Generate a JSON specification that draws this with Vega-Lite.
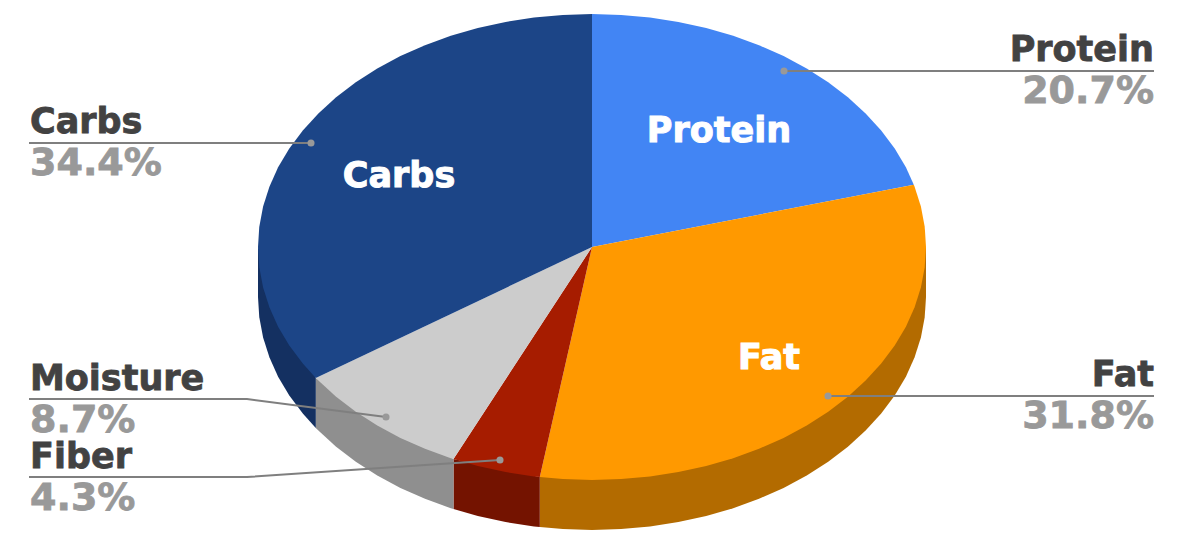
{"$schema":"https://vega.github.io/schema/vega-lite/v6.json","width":1184,"height":544,"padding":0,"autosize":"none","background":"white","config":{"view":{"stroke":null}},"projection":{"type":"identity","reflectY":true,"scale":1,"translate":[592,247]},"datasets":{"faces":[
{"type":"Feature","properties":{"face":"Fat side","share":31.8},"geometry":{"type":"Polygon","coordinates":[[[334,0],[334,-50],[332.7,-70.3],[328.9,-90.5],[322.6,-110.3],[313.9,-129.7],[302.7,-148.5],[289.2,-166.5],[273.6,-183.6],[255.9,-199.8],[236.2,-214.8],[214.7,-228.5],[191.6,-240.9],[167,-251.8],[141.2,-261.2],[114.2,-268.9],[86.4,-275.1],[58,-279.5],[29.1,-282.1],[0,-283],[-29.1,-282.1],[-52.2,-280.1],[-52.2,-230.1],[334,0]]]}},
{"type":"Feature","properties":{"face":"Fiber side","share":4.3},"geometry":{"type":"Polygon","coordinates":[[[-52.2,-230.1],[-52.2,-280.1],[-58,-279.5],[-86.4,-275.1],[-114.2,-268.9],[-138.5,-262],[-138.5,-212],[-52.2,-230.1]]]}},
{"type":"Feature","properties":{"face":"Moisture side","share":8.7},"geometry":{"type":"Polygon","coordinates":[[[-138.5,-212],[-138.5,-262],[-141.2,-261.2],[-167,-251.8],[-191.6,-240.9],[-214.7,-228.5],[-236.2,-214.8],[-255.9,-199.8],[-273.6,-183.6],[-276.2,-181],[-276.2,-131],[-138.5,-212]]]}},
{"type":"Feature","properties":{"face":"Carbs side","share":34.4},"geometry":{"type":"Polygon","coordinates":[[[-276.2,-131],[-276.2,-181],[-289.2,-166.5],[-302.7,-148.5],[-313.9,-129.7],[-322.6,-110.3],[-328.9,-90.5],[-332.7,-70.3],[-334,-50],[-334,0],[-276.2,-131]]]}},
{"type":"Feature","properties":{"face":"Protein","share":20.7},"geometry":{"type":"Polygon","coordinates":[[[0,0],[0,233],[29.1,232.1],[58,229.5],[86.4,225.1],[114.2,218.9],[141.2,211.2],[167,201.8],[191.6,190.9],[214.7,178.5],[236.2,164.8],[255.9,149.8],[273.6,133.6],[289.2,116.5],[302.7,98.5],[313.9,79.7],[321.8,62.3],[0,0]]]}},
{"type":"Feature","properties":{"face":"Fat","share":31.8},"geometry":{"type":"Polygon","coordinates":[[[0,0],[321.8,62.3],[322.6,60.3],[328.9,40.5],[332.7,20.3],[334,0],[332.7,-20.3],[328.9,-40.5],[322.6,-60.3],[313.9,-79.7],[302.7,-98.5],[289.2,-116.5],[273.6,-133.6],[255.9,-149.8],[236.2,-164.8],[214.7,-178.5],[191.6,-190.9],[167,-201.8],[141.2,-211.2],[114.2,-218.9],[86.4,-225.1],[58,-229.5],[29.1,-232.1],[0,-233],[-29.1,-232.1],[-52.2,-230.1],[0,0]]]}},
{"type":"Feature","properties":{"face":"Fiber","share":4.3},"geometry":{"type":"Polygon","coordinates":[[[0,0],[-52.2,-230.1],[-58,-229.5],[-86.4,-225.1],[-114.2,-218.9],[-138.5,-212],[0,0]]]}},
{"type":"Feature","properties":{"face":"Moisture","share":8.7},"geometry":{"type":"Polygon","coordinates":[[[0,0],[-138.5,-212],[-141.2,-211.2],[-167,-201.8],[-191.6,-190.9],[-214.7,-178.5],[-236.2,-164.8],[-255.9,-149.8],[-273.6,-133.6],[-276.2,-131],[0,0]]]}},
{"type":"Feature","properties":{"face":"Carbs","share":34.4},"geometry":{"type":"Polygon","coordinates":[[[0,0],[-276.2,-131],[-289.2,-116.5],[-302.7,-98.5],[-313.9,-79.7],[-322.6,-60.3],[-328.9,-40.5],[-332.7,-20.3],[-334,0],[-332.7,20.3],[-328.9,40.5],[-322.6,60.3],[-313.9,79.7],[-302.7,98.5],[-289.2,116.5],[-273.6,133.6],[-255.9,149.8],[-236.2,164.8],[-214.7,178.5],[-191.6,190.9],[-167,201.8],[-141.2,211.2],[-114.2,218.9],[-86.4,225.1],[-58,229.5],[-29.1,232.1],[0,233],[0,0]]]}}
],
"leaders":[
{"name":"Protein","step":1,"lon":192,"lat":176},{"name":"Protein","step":2,"lon":562,"lat":176},
{"name":"Fat","step":1,"lon":236,"lat":-149},{"name":"Fat","step":2,"lon":562,"lat":-149},
{"name":"Carbs","step":1,"lon":-281,"lat":104},{"name":"Carbs","step":2,"lon":-563,"lat":104},
{"name":"Moisture","step":1,"lon":-206,"lat":-170},{"name":"Moisture","step":2,"lon":-345,"lat":-152},{"name":"Moisture","step":3,"lon":-563,"lat":-152},
{"name":"Fiber","step":1,"lon":-92,"lat":-213},{"name":"Fiber","step":2,"lon":-345,"lat":-230},{"name":"Fiber","step":3,"lon":-563,"lat":-230}
],
"namesRight":[
{"label":"Protein","lon":562,"lat":186},{"label":"Fat","lon":562,"lat":-139}
],
"sharesRight":[
{"label":"20.7%","lon":562,"lat":144},{"label":"31.8%","lon":562,"lat":-181}
],
"namesLeft":[
{"label":"Carbs","lon":-562,"lat":114},{"label":"Moisture","lon":-562,"lat":-143},{"label":"Fiber","lon":-562,"lat":-221}
],
"sharesLeft":[
{"label":"34.4%","lon":-562,"lat":72},{"label":"8.7%","lon":-562,"lat":-185},{"label":"4.3%","lon":-562,"lat":-263}
],
"labelsInner":[
{"label":"Protein","lon":127,"lat":105},{"label":"Fat","lon":177,"lat":-122},{"label":"Carbs","lon":-193,"lat":60}
]},
"layer":[
{"data":{"name":"faces"},"mark":{"type":"geoshape","strokeWidth":0},"encoding":{"color":{"field":"properties.face","type":"nominal","legend":null,"scale":{"domain":["Protein","Fat","Fiber","Moisture","Carbs","Fat side","Fiber side","Moisture side","Carbs side"],"range":["#4285f4","#ff9900","#a61c00","#cccccc","#1c4587","#b36b00","#741300","#8f8f8f","#143061"]}}}},
{"data":{"name":"leaders"},"mark":{"type":"line","color":"#7f7f7f","strokeWidth":2},"encoding":{"longitude":{"field":"lon","type":"quantitative"},"latitude":{"field":"lat","type":"quantitative"},"detail":{"field":"name"},"order":{"field":"step"}}},
{"data":{"name":"leaders"},"transform":[{"filter":"datum.step==1"}],"mark":{"type":"circle","color":"#999999","opacity":1,"size":50},"encoding":{"longitude":{"field":"lon","type":"quantitative"},"latitude":{"field":"lat","type":"quantitative"}}},
{"data":{"name":"namesRight"},"mark":{"type":"text","align":"right","baseline":"alphabetic","font":"DejaVu Sans","fontWeight":"bold","fontSize":35,"fill":"#424242","stroke":"#424242","strokeWidth":0.8},"encoding":{"longitude":{"field":"lon","type":"quantitative"},"latitude":{"field":"lat","type":"quantitative"},"text":{"field":"label"}}},
{"data":{"name":"sharesRight"},"mark":{"type":"text","align":"right","baseline":"alphabetic","font":"DejaVu Sans","fontWeight":"bold","fontSize":38,"fill":"#999999","stroke":"#999999","strokeWidth":0.8},"encoding":{"longitude":{"field":"lon","type":"quantitative"},"latitude":{"field":"lat","type":"quantitative"},"text":{"field":"label"}}},
{"data":{"name":"namesLeft"},"mark":{"type":"text","align":"left","baseline":"alphabetic","font":"DejaVu Sans","fontWeight":"bold","fontSize":35,"fill":"#424242","stroke":"#424242","strokeWidth":0.8},"encoding":{"longitude":{"field":"lon","type":"quantitative"},"latitude":{"field":"lat","type":"quantitative"},"text":{"field":"label"}}},
{"data":{"name":"sharesLeft"},"mark":{"type":"text","align":"left","baseline":"alphabetic","font":"DejaVu Sans","fontWeight":"bold","fontSize":38,"fill":"#999999","stroke":"#999999","strokeWidth":0.8},"encoding":{"longitude":{"field":"lon","type":"quantitative"},"latitude":{"field":"lat","type":"quantitative"},"text":{"field":"label"}}},
{"data":{"name":"labelsInner"},"mark":{"type":"text","align":"center","baseline":"alphabetic","font":"DejaVu Sans","fontWeight":"bold","fontSize":35,"fill":"#ffffff","stroke":"#ffffff","strokeWidth":1},"encoding":{"longitude":{"field":"lon","type":"quantitative"},"latitude":{"field":"lat","type":"quantitative"},"text":{"field":"label"}}}
]}
